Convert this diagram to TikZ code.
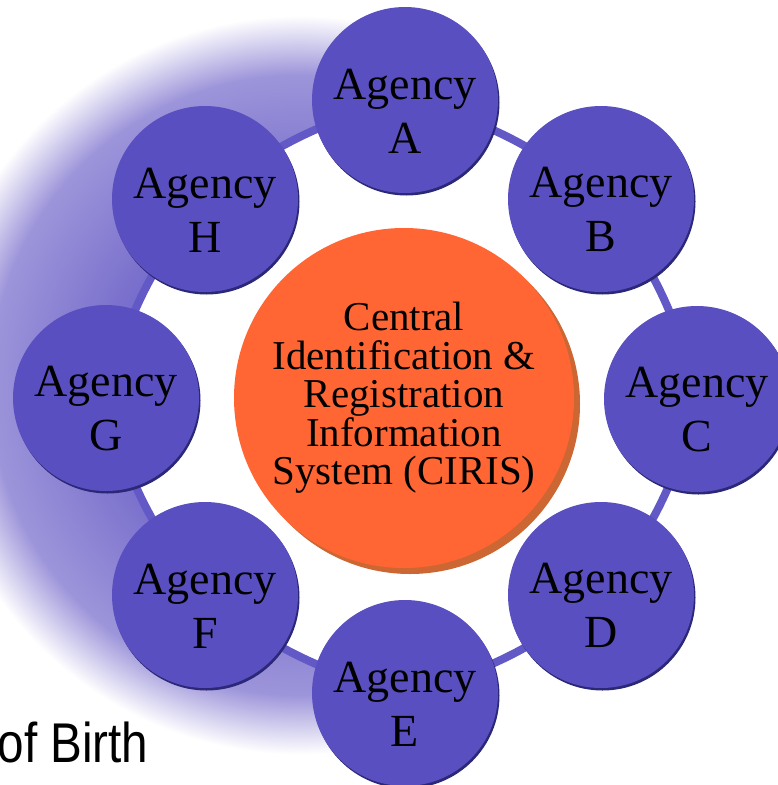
\documentclass[tikz,border=0pt]{standalone}
\usepackage{fontspec}
\setmainfont{Liberation Serif}
\newfontfamily\slidefont[FakeStretch=0.85]{Liberation Sans}
\usetikzlibrary{backgrounds}

\definecolor{agencyblue}{HTML}{5A4FC0}
\definecolor{agencyshade}{HTML}{2C2878}
\definecolor{ringblue}{HTML}{6259C6}
\definecolor{cirisorange}{HTML}{FF6633}
\definecolor{cirisshade}{HTML}{CC6633}
\definecolor{swooshin}{HTML}{766CCB}
\definecolor{swooshout}{HTML}{9D95DA}

\pgfdeclareradialshading{swoosh}{\pgfpointorigin}{color(0bp)=(swooshin); color(12bp)=(swooshin); color(20.4bp)=(swooshout); color(24.3bp)=(white); color(50bp)=(white)}

\begin{document}
\begin{tikzpicture}[x=1pt, y=1pt, agency/.style={circle, fill=agencyblue, minimum size=186pt, inner sep=0pt, align=center, font=\fontsize{46}{54}\selectfont, text height=106pt, preaction={fill=agencyshade, transform canvas={shift={(1.5pt,-2.5pt)}}}}, ciris/.style={circle, fill=cirisorange, minimum size=340pt, inner sep=0pt, align=center, font=\fontsize{41}{38.5}\selectfont, preaction={fill=cirisshade, transform canvas={shift={(6pt,-6pt)}}}}, ring/.style={draw=ringblue, line width=8pt}]

  \useasboundingbox (0,-785) rectangle (778,0);

  \node[ciris] (ciris) at (404,-398) {Central\\Identification \&\\Registration\\Information\\System (CIRIS)};

  \node[agency] (a) at (405,-100) {Agency\\A};
  \node[agency] (b) at (601,-199) {Agency\\B};
  \node[agency] (c) at (697,-399) {Agency\\C};
  \node[agency] (d) at (601,-595) {Agency\\D};
  \node[agency] (e) at (405,-693) {Agency\\E};
  \node[agency] (f) at (205,-595) {Agency\\F};
  \node[agency] (g) at (106,-398) {Agency\\G};
  \node[agency] (h) at (205,-199) {Agency\\H};

  \node[anchor=base east, font=\slidefont\fontsize{56}{60}\selectfont] (birth) at (152,-762) {of Birth};

  \begin{scope}[on background layer]
    \fill[white] (0,-785) rectangle (778,0);
    \begin{scope}
      \clip (0,-785) rectangle (405,0);
      \shade[shading=swoosh] (300,-385) circle[radius=380];
    \end{scope}
    \fill[white] (a.center) to[bend left=12] (b.center) to[bend left=12] (c.center) to[bend left=12] (d.center) to[bend left=12] (e.center) to[bend left=12] (f.center) to[bend left=12] (g.center) to[bend left=12] (h.center) to[bend left=12] (a.center);
    \foreach \src/\dst in {a/b, b/c, c/d, d/e, e/f, f/g, g/h, h/a}
      \draw[ring] (\src.center) to[bend left=12] (\dst.center);
  \end{scope}
\end{tikzpicture}
\end{document}
